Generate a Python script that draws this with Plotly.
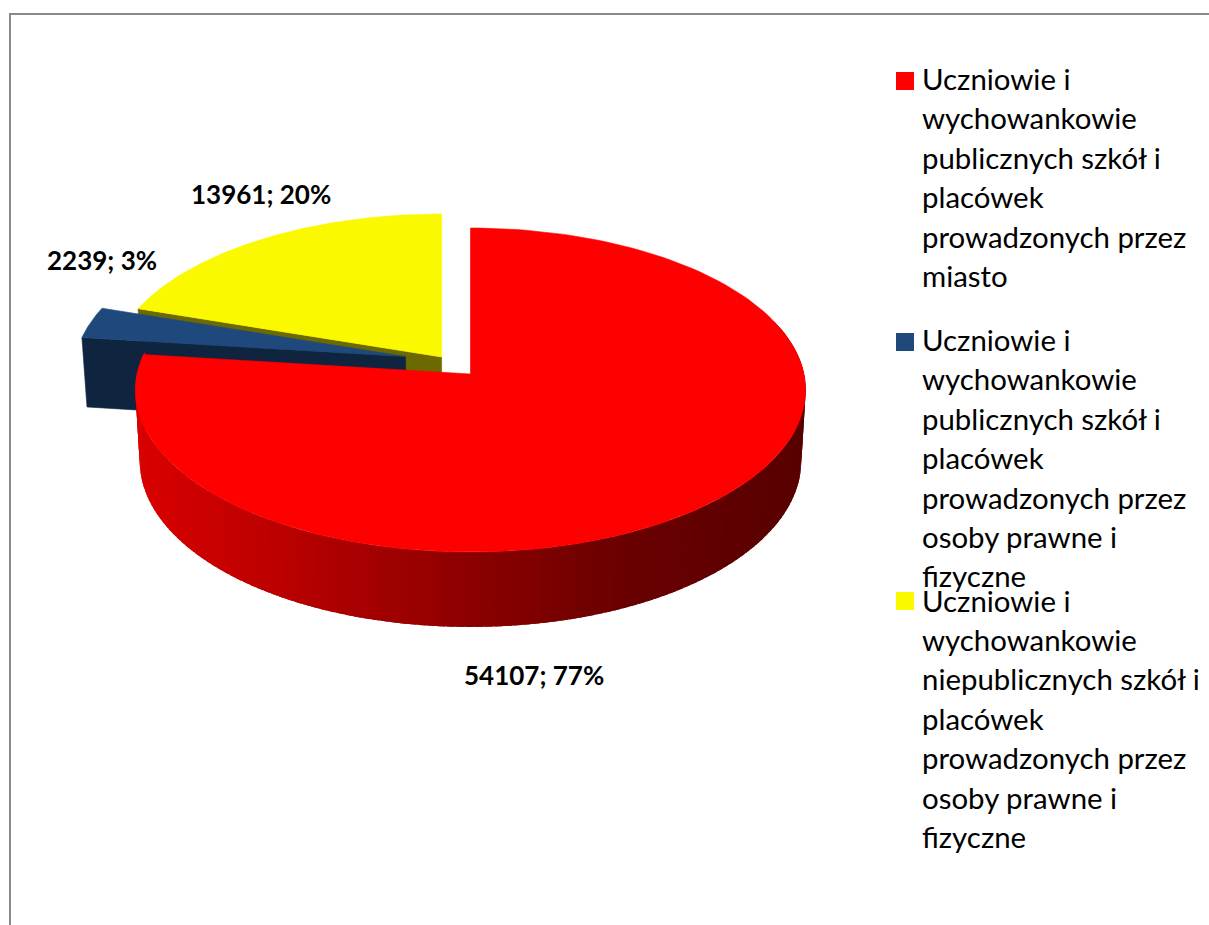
import numpy as np
import plotly.graph_objects as go

categories = [
    "Uczniowie i wychowankowie publicznych szkół i placówek prowadzonych przez miasto",
    "Uczniowie i wychowankowie publicznych szkół i placówek prowadzonych przez osoby prawne i fizyczne",
    "Uczniowie i wychowankowie niepublicznych szkół i placówek prowadzonych przez osoby prawne i fizyczne",
]
values = [54107, 2239, 13961]
legend_lines = [
    ["Uczniowie i", "wychowankowie", "publicznych szkół i", "placówek", "prowadzonych przez", "miasto"],
    ["Uczniowie i", "wychowankowie", "publicznych szkół i", "placówek", "prowadzonych przez", "osoby prawne i", "fizyczne"],
    ["Uczniowie i", "wychowankowie", "niepublicznych szkół i", "placówek", "prowadzonych przez", "osoby prawne i", "fizyczne"],
]
top_colors = ["#fe0000", "#1f497d", "#faf900"]
face_colors = [None, "#0f243e", "#6b6900"]
offsets = [(0.0, 0.0), (-0.195, 0.11), (-0.0868, 0.107)]
label_pos = [(534, 675), (102, 260), (261, 194)]
legend_y = [81, 342, 601]
legend_first_line = [78.5, 339.5, 600]

W, H = 1209, 925
CX, CY, A, B, K = 470.5, 374, 333.5, 160.4, 0.0988
LINE = 39.4
FONT = "Lato"

total = sum(values)
edges = 360 * np.cumsum([0] + values) / total


def top(deg, r, off):
    t = np.radians(deg)
    v = r * np.cos(t) + off[1]
    w = 1 + K * v
    x = CX + A * (r * np.sin(t) / w + off[0])
    y = CY - B * v / w
    return x, y, v


def low(deg, r, off):
    x, y, v = top(deg, r, off)
    return CX + (x - CX) * 0.987, y + 70.5 - 4.5 * v


def poly(xs, ys, color, lw=0.6):
    return go.Scatter(x=list(xs), y=list(ys), mode="lines", fill="toself", fillcolor=color,
                      line=dict(color=color, width=lw), hoverinfo="skip", showlegend=False)


def wedge(i):
    a = np.linspace(edges[i], edges[i + 1], 160)
    x, y, _ = top(a, 1, offsets[i])
    ax, ay, _ = top(0.0, 0, offsets[i])
    return poly(np.r_[ax, x, ax], np.r_[ay, y, ay], top_colors[i])


def cut_face(i, deg):
    off = offsets[i]
    ax, ay, _ = top(deg, 0, off)
    ox, oy, _ = top(deg, 1, off)
    lx, ly = low(deg, 1, off)
    bx, by = low(deg, 0, off)
    return poly([ax, ox, lx, bx, ax], [ay, oy, ly, by, ay], face_colors[i])


fig = go.Figure()

# yellow slice, then blue slice, then red slice in front
fig.add_trace(cut_face(2, edges[2]))
fig.add_trace(wedge(2))
fig.add_trace(cut_face(1, edges[1]))
fig.add_trace(wedge(1))

steps = np.arange(70, edges[1], 1.5)
for a0, a1 in zip(steps[:-1], np.r_[steps[1:-1], edges[1]]):
    arc = np.linspace(a0, a1 + 1.2, 5)
    x, y, _ = top(arc, 1, offsets[0])
    lx, ly = low(arc, 1, offsets[0])
    mid = float(np.mean(lx))
    r = int(np.interp(mid, [140, 290, 470, 620, 800], [218, 184, 140, 106, 88]))
    fig.add_trace(poly(np.r_[x, lx[::-1], x[0]], np.r_[y, ly[::-1], y[0]], f"rgb({r},0,0)", lw=0))
fig.add_trace(wedge(0))

# legend keys
fig.add_trace(go.Scatter(x=[905] * 3, y=legend_y, mode="markers", hoverinfo="skip", showlegend=False,
                         marker=dict(symbol="square", size=18, color=top_colors, line=dict(width=0))))

annotations = []
for i, v in enumerate(values):
    pct = round(100 * v / total)
    annotations.append(dict(x=label_pos[i][0], y=label_pos[i][1], text=f"<b>{v}; {pct}%</b>", showarrow=False,
                            xanchor="center", yanchor="middle", font=dict(family=FONT, size=26, color="#000")))
for lines, y0 in zip(legend_lines, legend_first_line):
    for j, s in enumerate(lines):
        annotations.append(dict(x=919.5, y=y0 + j * LINE, text=s, showarrow=False, xanchor="left",
                                yanchor="middle", font=dict(family=FONT, size=29.4, color="#000")))

fig.update_layout(
    width=W, height=H, margin=dict(l=0, r=0, t=0, b=0), paper_bgcolor="#fff", plot_bgcolor="#fff",
    xaxis=dict(range=[0, W], visible=False, fixedrange=True),
    yaxis=dict(range=[H, 0], visible=False, fixedrange=True),
    annotations=annotations,
    shapes=[
        dict(type="line", x0=10, x1=10, y0=14, y1=H, line=dict(color="#8a8a8a", width=2)),
        dict(type="line", x0=9, x1=W, y0=14, y1=14, line=dict(color="#8a8a8a", width=2)),
    ],
)
fig.write_html("out.html", config={"displayModeBar": False},
               post_script="document.body.style.margin='0';document.body.style.overflow='hidden';")
